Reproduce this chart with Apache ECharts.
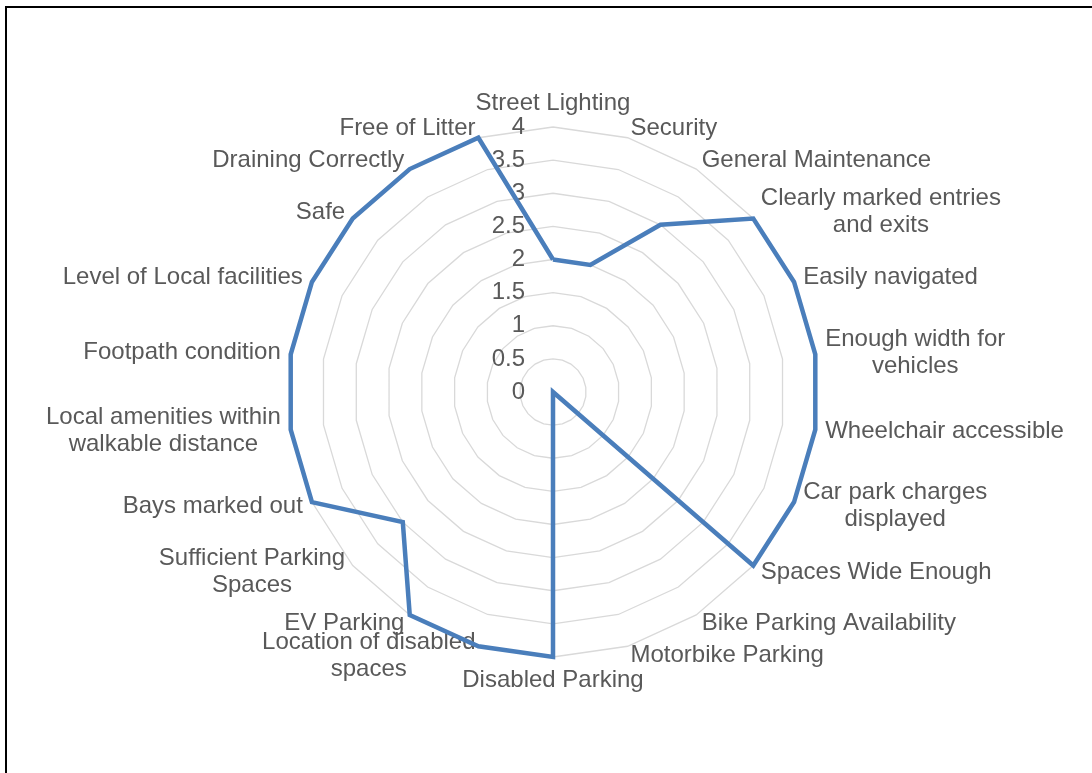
<!DOCTYPE html>
<html>
<head>
<meta charset="UTF-8">
<title>car park survey radar</title>
<script src="https://cdn.jsdelivr.net/npm/echarts@6/dist/echarts.min.js"></script>
<style type="text/css">
    body { margin: 0; padding: 0; background: #fff; }
    .frame {
        position: absolute; left: 5px; top: 6px;
        width: 1200px; height: 900px;
        border-left: 2px solid #000; border-top: 2px solid #000;
    }
    #chart { position: absolute; left: 0; top: 0; width: 1092px; height: 773px; }
</style>
</head>
<body>
<div class="frame"></div>
<div id="chart"></div>
<script type="text/javascript">
// categories, clockwise from the top
var categories = [
    'Street Lighting', 'Security', 'General Maintenance',
    'Clearly marked entries\nand exits', 'Easily navigated',
    'Enough width for\nvehicles', 'Wheelchair accessible',
    'Car park charges\ndisplayed', 'Spaces Wide Enough',
    'Bike Parking Availability', 'Motorbike Parking', 'Disabled Parking',
    'Location of disabled\nspaces', 'EV Parking',
    'Sufficient Parking\nSpaces', 'Bays marked out',
    'Local amenities within\nwalkable distance', 'Footpath condition',
    'Level of Local facilities', 'Safe', 'Draining Correctly', 'Free of Litter'
];
var scores = [2, 2, 3, 4, 4, 4, 4, 4, 4, 0, 0, 4, 4, 4, 3, 4, 4, 4, 4, 4, 4, 4];
var tickLabels = ['0', '0.5', '1', '1.5', '2', '2.5', '3', '3.5', '4'];

// echarts lays radar axes out counter-clockwise, so keep the first one at the top
// and flip the rest to get the clockwise order of the original
function clockwise(arr) {
    return [arr[0]].concat(arr.slice(1).reverse());
}

var grey = '#595959';
var font = 'Liberation Sans, Arial, sans-serif';
var center = [553, 392];
var radius = 265;

var chart = echarts.init(document.getElementById('chart'));
chart.setOption({
    animation: false,
    radar: {
        center: center,
        radius: radius,
        startAngle: 90,
        shape: 'polygon',
        splitNumber: 8,
        indicator: clockwise(categories).map(function (c) { return { name: c, min: 0, max: 4 }; }),
        axisName: {
            color: grey,
            fontSize: 24,
            fontFamily: font,
            lineHeight: 27,
            formatter: function (name) {
                return name.split('\n').map(function (l) { return '{c|' + l + '}'; }).join('\n');
            },
            rich: { c: { align: 'center', color: grey, fontSize: 24, lineHeight: 27, fontFamily: font } }
        },
        nameGap: 10,
        axisLine: { show: false },
        axisTick: { show: false },
        splitArea: { show: false },
        splitLine: { lineStyle: { color: '#d9d9d9', width: 1.3 } }
    },
    // polar only used to print the value scale along the top spoke
    polar: { center: center, radius: radius },
    angleAxis: { startAngle: 90, show: false, min: 0, max: 360 },
    radiusAxis: {
        min: 0, max: 4, interval: 0.5,
        axisLine: { show: false },
        axisTick: { show: false },
        splitLine: { show: false },
        axisLabel: {
            color: grey, fontSize: 24, margin: 28, align: 'right',
            fontFamily: font,
            formatter: function (v) { return tickLabels[Math.round(v * 2)]; }
        }
    },
    series: [{
        type: 'radar',
        symbol: 'none',
        lineStyle: { color: '#4A7EBB', width: 4.5, join: 'miter' },
        data: [{ value: clockwise(scores) }]
    }]
});
</script>
</body>
</html>
